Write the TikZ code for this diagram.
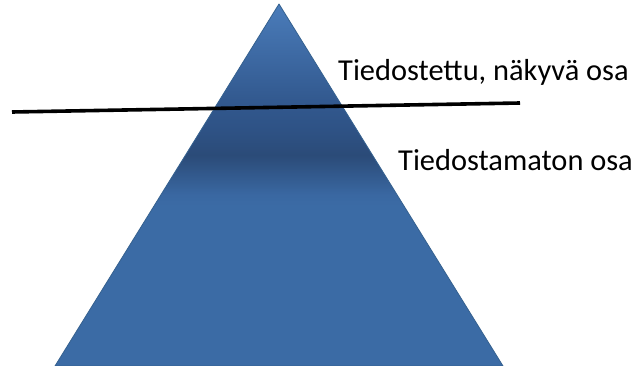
\documentclass[tikz,border=0pt]{standalone}
\usepackage{fontspec}
\setmainfont{Carlito}
\definecolor{bluebot}{HTML}{3B6BA5}
\definecolor{bluemid}{HTML}{3A68A2}
\definecolor{bluedark}{HTML}{2B4B78}
\definecolor{bluedk2}{HTML}{2E5285}
\definecolor{blueup}{HTML}{32598F}
\definecolor{bluetop}{HTML}{4A7CBA}
\definecolor{blueedge}{HTML}{35618F}
\pgfdeclareverticalshading{iceberg}{100bp}{%
  color(0bp)=(bluebot); color(25bp)=(bluebot); color(47bp)=(bluebot);
  color(48.6bp)=(bluemid); color(54.1bp)=(bluedark); color(57.6bp)=(bluedk2);
  color(61.7bp)=(blueup); color(75bp)=(bluetop); color(100bp)=(bluetop)}
\tikzset{
  label text/.style={anchor=base west, inner sep=0pt, font=\fontsize{30.4}{36}\selectfont, text=black},
  waterline/.style={line width=3.6pt, black},
  berg/.style={shading=iceberg, draw=blueedge, line width=0.8pt, line join=round}
}
\begin{document}
\begin{tikzpicture}[x=1pt,y=-1pt]
\useasboundingbox (0,0) rectangle (636,366);
\coordinate (apex) at (279,4);
\coordinate (bl) at (55,366);
\coordinate (br) at (503,366);
\path[berg] (apex) -- (br) -- (bl) -- cycle;
\coordinate (wl) at (12,112);
\coordinate (wr) at (520,103);
\draw[waterline] (wl) -- (wr);
\node[label text] (visible) at (338,81) {Tiedostettu, näkyvä osa};
\node[label text] (hidden) at (398,170) {Tiedostamaton osa};
\end{tikzpicture}
\end{document}
